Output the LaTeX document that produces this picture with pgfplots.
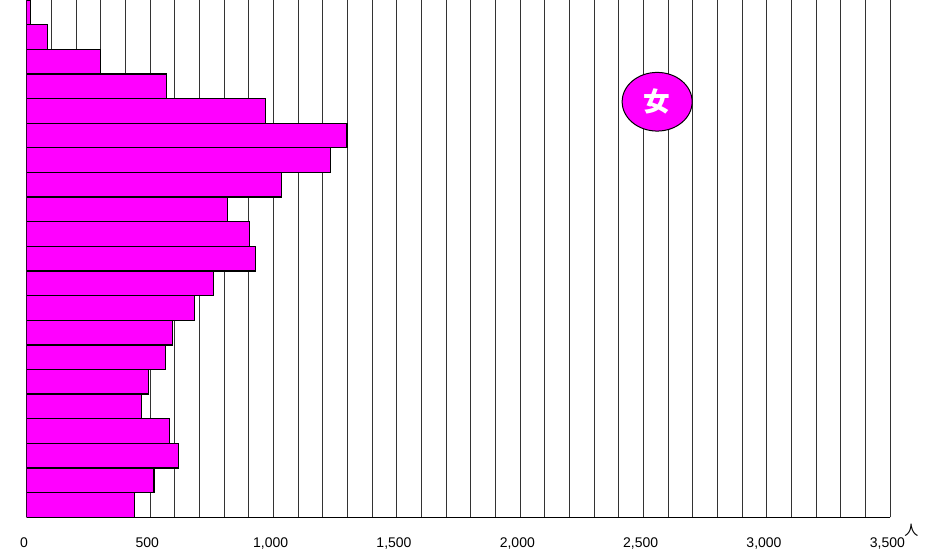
\documentclass[border=0pt]{standalone}
\usepackage{pgfplots}
\pgfplotsset{compat=1.18}
\usepackage{fontspec}
\setmainfont{Liberation Sans}
\newfontfamily\cjk{Noto Sans CJK JP}
\usetikzlibrary{shapes.geometric}

\definecolor{barpink}{RGB}{255,0,255}

% female population by age group, bottom (1) = youngest
\pgfplotstableread{
grp  val
1    438
2    516
3    616
4    580
5    466
6    494
7    562
8    592
9    680
10   758
11   927
12   904
13   815
14   1034
15   1231
16   1298
17   969
18   567
19   298
20   85
21   16
}\female

\begin{document}
\begin{tikzpicture}
\begin{axis}[
    scale only axis,
    width=647.5pt, height=388pt,
    xbar, bar width=1,
    xmin=0, xmax=3500,
    ymin=0.5, ymax=21.5,
    axis x line*=bottom, axis y line*=left,
    x axis line style={black, line width=1pt},
    y axis line style={black, line width=1pt},
    xtick={0,500,...,3500},
    minor xtick={0,100,...,3500},
    ytick=\empty,
    xmajorgrids, xminorgrids,
    major grid style={black!80, line width=0.75pt},
    minor grid style={black!80, line width=0.75pt},
    major tick length=0pt, minor tick length=0pt,
    tick label style={font=\fontsize{10.5}{12}\selectfont},
    xticklabel style={yshift=-12pt, xshift=-2pt},
    /pgf/number format/.cd, 1000 sep={,}, assume math mode=true,
]
\addplot[fill=barpink, draw=black, line width=1pt] table[x=val, y=grp] {\female};
\node[ellipse, fill=barpink, draw=black, line width=0.75pt,
      minimum width=52.5pt, minimum height=44pt, inner sep=0pt,
      text=white, font=\cjk\bfseries\fontsize{20}{24}\selectfont]
      at (axis cs:2556,17.37) {女};
\end{axis}
\draw[black!40, line width=0.75pt] (current axis.north west) -- (current axis.north east);
\node[anchor=base west, inner sep=0pt, font=\cjk\fontsize{10.5}{12}\selectfont]
    at ([xshift=10.5pt, yshift=-13.5pt]current axis.south east) {人};
\pgfresetboundingbox
\path[use as bounding box] ([xshift=-20pt, yshift=-29pt]current axis.south west)
    rectangle ([xshift=33pt]current axis.north east);
\end{tikzpicture}
\end{document}
